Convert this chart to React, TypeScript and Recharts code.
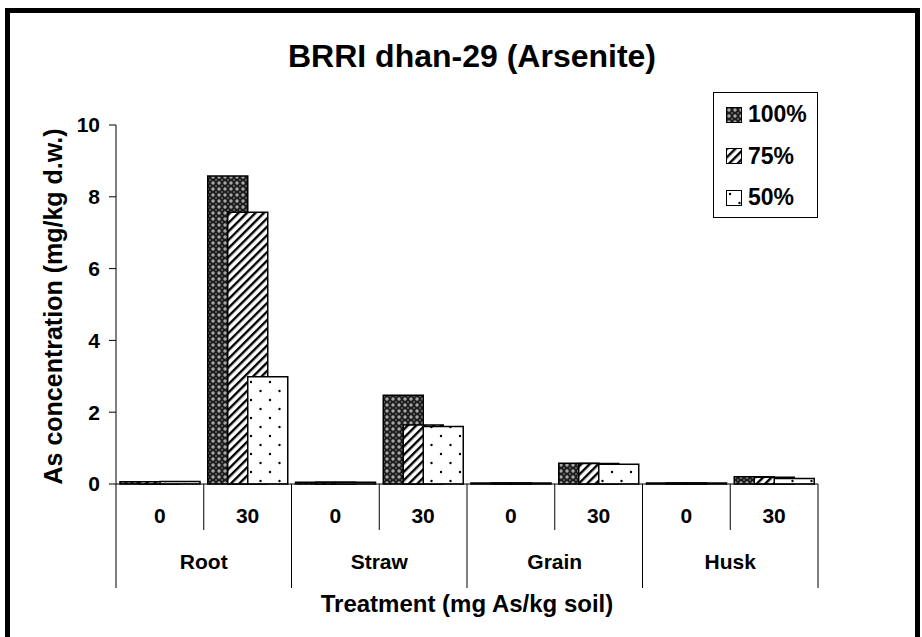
import React from "react";
import { BarChart, Bar, XAxis, YAxis, Legend, Label } from "recharts";

const organs = ["Root", "Straw", "Grain", "Husk"];
const doses = ["0", "30"];
const yTicks = [0, 2, 4, 6, 8, 10];

// one value per organ x dose, in order: Root 0, Root 30, Straw 0, Straw 30, ...
const as100 = [0.06, 8.58, 0.05, 2.47, 0.03, 0.58, 0.03, 0.2];
const as75 = [0.06, 7.57, 0.05, 1.64, 0.03, 0.57, 0.03, 0.19];
const as50 = [0.07, 2.99, 0.05, 1.6, 0.03, 0.55, 0.03, 0.15];

const seriesNames = ["100%", "75%", "50%"];
const seriesKeys = ["p100", "p75", "p50"];
const seriesFills = ["url(#pat100)", "url(#pat75)", "url(#pat50)"];

const data = organs.flatMap((organ, i) =>
  doses.map((dose, j) => ({
    organ,
    dose,
    p100: as100[i * 2 + j],
    p75: as75[i * 2 + j],
    p50: as50[i * 2 + j],
  }))
);

const W = 922;
const H = 637;
const margin = { top: 125, right: 104, bottom: 0, left: 0 };
const Y_W = 116;
const X_H = 153;
const BAND = (W - margin.left - margin.right - Y_W) / data.length;
const FONT = '"Liberation Sans", Arial, sans-serif';

const txt = { fontFamily: FONT, fontWeight: 700, fill: "#000" } as const;

function DoseTick(props: any) {
  const { x, y, payload } = props;
  const i = payload?.index ?? props.index ?? 0;
  const left = x - BAND / 2;
  const right = x + BAND / 2;
  return (
    <g>
      <line x1={left} x2={left} y1={y} y2={y + (i % 2 ? 46 : 104)} stroke="#000" />
      {i === data.length - 1 && (
        <line x1={right} x2={right} y1={y} y2={y + 104} stroke="#000" />
      )}
      <text x={x} y={y + 39} textAnchor="middle" fontSize={21} {...txt}>
        {payload.value}
      </text>
      {i % 2 === 0 && (
        <text x={right} y={y + 85} textAnchor="middle" fontSize={21} {...txt}>
          {data[i].organ}
        </text>
      )}
    </g>
  );
}

function YTitle(props: any) {
  const vb = props.viewBox || { y: margin.top, height: H - margin.top - X_H };
  const cx = 62;
  const cy = vb.y + vb.height / 2 + 2;
  return (
    <text x={cx} y={cy} transform={`rotate(-90 ${cx} ${cy})`} textAnchor="middle" fontSize={25} {...txt}>
      As concentration (mg/kg d.w.)
    </text>
  );
}

function XTitle(props: any) {
  const vb = props.viewBox || { x: Y_W, width: W - Y_W - margin.right };
  return (
    <text x={vb.x + vb.width / 2} y={612} textAnchor="middle" fontSize={24} {...txt}>
      Treatment (mg As/kg soil)
    </text>
  );
}

function LegendBox() {
  return (
    <div
      style={{
        width: 105, height: 126, boxSizing: "border-box", border: "1px solid #000",
        background: "#fff", paddingTop: 1,
      }}
    >
      {seriesNames.map((name, k) => (
        <div key={name} style={{ display: "flex", alignItems: "center", height: 41.5, paddingLeft: 12 }}>
          <svg width={16} height={16} style={{ marginRight: 6 }}>
            <rect x={0.5} y={0.5} width={15} height={15} fill={seriesFills[k]} stroke="#000" />
          </svg>
          <span style={{ fontFamily: FONT, fontWeight: 700, fontSize: 23, color: "#000" }}>{name}</span>
        </div>
      ))}
    </div>
  );
}

export default function App() {
  return (
    <div style={{ position: "fixed", left: 0, top: 0, width: W, height: H, overflow: "hidden", background: "#fff" }}>
      <div
        style={{
          position: "absolute", left: 5, top: 8, width: 915, height: 700,
          border: "5px solid #000", boxSizing: "border-box",
        }}
      />
      <div
        style={{
          position: "absolute", left: 0, width: 944, top: 39.5, lineHeight: "32px",
          textAlign: "center", fontFamily: FONT, fontWeight: 700, fontSize: 32, color: "#000",
        }}
      >
        BRRI dhan-29 (Arsenite)
      </div>
      <div style={{ position: "absolute", left: 0, top: 0 }}>
        <BarChart width={W} height={H} data={data} margin={margin} barSize={40} barGap={-20}>
          <defs>
            <pattern id="pat100" patternUnits="userSpaceOnUse" width={6} height={6}>
              <rect width={6} height={6} fill="#1c1c1c" />
              <circle cx={3} cy={3} r={1.7} fill="#a8a8a8" />
              <circle cx={0} cy={0} r={1} fill="#6a6a6a" />
              <circle cx={6} cy={0} r={1} fill="#6a6a6a" />
              <circle cx={0} cy={6} r={1} fill="#6a6a6a" />
              <circle cx={6} cy={6} r={1} fill="#6a6a6a" />
            </pattern>
            <pattern id="pat75" patternUnits="userSpaceOnUse" width={6} height={6} patternTransform="rotate(45)">
              <rect width={6} height={6} fill="#fff" />
              <rect width={2.4} height={6} fill="#000" />
            </pattern>
            <pattern id="pat50" patternUnits="userSpaceOnUse" width={19} height={18}>
              <rect width={19} height={18} fill="#fff" />
              <circle cx={4} cy={4} r={1.2} fill="#000" />
              <circle cx={13.5} cy={13} r={1.2} fill="#000" />
            </pattern>
          </defs>
          <XAxis
            dataKey="dose"
            interval={0}
            height={X_H}
            tickLine={false}
            tickSize={0}
            tickMargin={0}
            axisLine={{ stroke: "#000" }}
            tick={<DoseTick />}
          >
            <Label content={<XTitle />} />
          </XAxis>
          <YAxis
            domain={[0, 10]}
            ticks={yTicks}
            interval={0}
            width={Y_W}
            tickSize={7}
            tickMargin={9}
            axisLine={{ stroke: "#000" }}
            tickLine={{ stroke: "#000" }}
            tick={{ ...txt, fontSize: 21 }}
          >
            <Label content={<YTitle />} />
          </YAxis>
          <Legend
            layout="horizontal"
            verticalAlign="middle"
            align="center"
            content={<LegendBox />}
            wrapperStyle={{ position: "absolute", left: 713, top: 92, width: 105, height: 126 }}
          />
          {seriesKeys.map((key, k) => (
            <Bar
              key={key}
              dataKey={key}
              name={seriesNames[k]}
              fill={seriesFills[k]}
              stroke="#000"
              strokeWidth={1.5}
              isAnimationActive={false}
            />
          ))}
        </BarChart>
      </div>
    </div>
  );
}
